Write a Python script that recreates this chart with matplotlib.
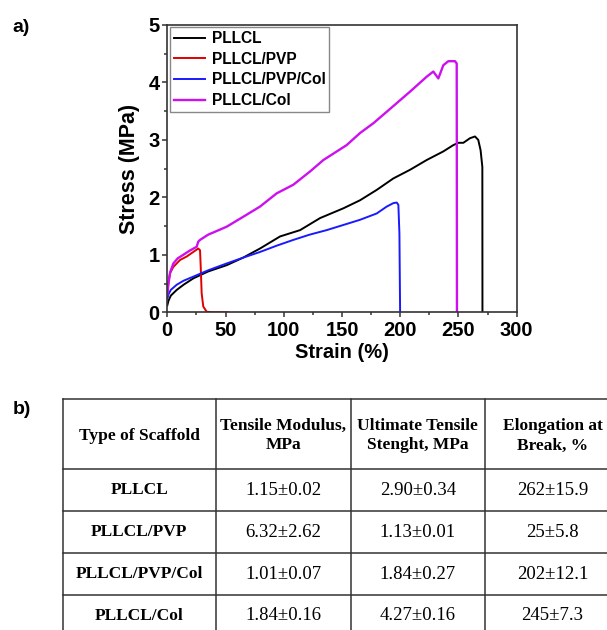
import numpy as np
import matplotlib.pyplot as plt

# stress-strain curves
labels = ['PLLCL', 'PLLCL/PVP', 'PLLCL/PVP/Col', 'PLLCL/Col']
colors = ['black', '#e00000', '#1a1aff', '#cc11ee']

pllcl_x = [0, 1, 3, 8.1, 14, 22.3, 35, 51, 65, 79.6, 96.8, 114, 131.2, 151.2, 165.5,
           179.8, 194.1, 208.4, 222.7, 237, 245.6, 249.9, 254.2, 259.9, 264.2, 267,
           269, 270.5, 270.6]
pllcl_y = [0.12, 0.2, 0.29, 0.39, 0.48, 0.59, 0.71, 0.82, 0.95, 1.11, 1.32, 1.43, 1.64,
           1.81, 1.95, 2.13, 2.33, 2.48, 2.65, 2.80, 2.91, 2.95, 2.95, 3.03, 3.06, 3.0,
           2.82, 2.53, 0]

pvp_x = [0, 0.5, 1.2, 2.3, 5.2, 10.9, 16.6, 22.3, 26.6, 28.1, 28.7, 29.5, 30.9, 33.8,
         40, 52.4]
pvp_y = [0.27, 0.42, 0.55, 0.68, 0.79, 0.91, 0.97, 1.05, 1.11, 1.08, 0.79, 0.33, 0.10,
         0.01, 0, 0]

pvpcol_x = [0, 1, 3, 8.1, 14, 22.3, 35, 51, 65, 79.6, 94, 108.2, 122, 136.8, 151.2,
            165.5, 179.8, 188.4, 194.1, 197, 198.4, 199.3, 199.9]
pvpcol_y = [0.24, 0.31, 0.39, 0.48, 0.55, 0.62, 0.73, 0.85, 0.95, 1.05, 1.16, 1.26,
            1.35, 1.43, 1.52, 1.61, 1.72, 1.84, 1.90, 1.91, 1.87, 1.37, 0]

col_x = [0, 1, 2.5, 5.2, 9, 13.7, 19, 25.2, 26.6, 28.1, 35, 51, 65, 79.6, 93.9, 108.2,
         122.5, 134, 154, 165.5, 176.9, 188.4, 208.4, 222.7, 228.4, 232.7, 237, 241.3,
         247, 248.5, 248.7]
col_y = [0.31, 0.5, 0.7, 0.85, 0.94, 1.0, 1.07, 1.14, 1.23, 1.26, 1.35, 1.49, 1.66,
         1.84, 2.07, 2.22, 2.45, 2.65, 2.91, 3.12, 3.29, 3.49, 3.84, 4.10, 4.19, 4.07,
         4.30, 4.37, 4.37, 4.33, 0]

# table b)
tbl_header = ['Type of Scaffold', 'Tensile Modulus,\nMPa', 'Ultimate Tensile\nStenght, MPa',
              'Elongation at\nBreak, %']
scaffolds = ['PLLCL', 'PLLCL/PVP', 'PLLCL/PVP/Col', 'PLLCL/Col']
modulus = ['1.15±0.02', '6.32±2.62', '1.01±0.07', '1.84±0.16']
uts = ['2.90±0.34', '1.13±0.01', '1.84±0.27', '4.27±0.16']
elong = ['262±15.9', '25±5.8', '202±12.1', '245±7.3']

W, H = 607, 630
fig = plt.figure(figsize=(W / 100, H / 100), dpi=100)
sans = 'Liberation Sans'
serif = 'Liberation Serif'

ax = fig.add_axes([167.3 / W, 1 - 312.3 / H, 349.4 / W, 287.3 / H])
xs = [pllcl_x, pvp_x, pvpcol_x, col_x]
ys = [pllcl_y, pvp_y, pvpcol_y, col_y]
for x, y, c, lab in zip(xs, ys, colors, labels):
    ax.plot(x, y, color=c, lw=1.4 if lab != 'PLLCL/Col' else 1.7, label=lab)

ax.set_xlim(0, 300)
ax.set_ylim(0, 5)
ax.set_xticks(np.arange(0, 301, 50))
ax.set_xticks(np.arange(25, 300, 50), minor=True)
ax.set_yticks(np.arange(0, 6, 1))
ax.set_yticks(np.arange(0.5, 5, 1), minor=True)
ax.tick_params(which='both', direction='out', top=False, right=False, width=1.1,
               color='#333333')
ax.tick_params(which='major', length=3.5, labelsize=14.5)
ax.tick_params(axis='x', which='major', pad=3)
ax.tick_params(axis='y', which='major', pad=2)
ax.tick_params(which='minor', length=2)
for t in ax.get_xticklabels() + ax.get_yticklabels():
    t.set_fontfamily(sans)
    t.set_fontweight('bold')
for s in ax.spines.values():
    s.set_color('#333333')
    s.set_linewidth(1.2)
ax.set_xlabel('Strain (%)', fontsize=14.5, fontweight='bold', family=sans, labelpad=2)
ax.set_ylabel('Stress (MPa)', fontsize=15.5, fontweight='bold', family=sans, labelpad=6)

leg = ax.legend(loc='upper left', frameon=True, fancybox=False, framealpha=1,
                edgecolor='#888888', borderaxespad=0.15, handlelength=2.0,
                handletextpad=0.45, labelspacing=0.36, borderpad=0.25,
                prop={'family': sans, 'weight': 'bold', 'size': 11.2})
leg.get_frame().set_linewidth(1.0)

fig.text(21 / W, 1 - 28 / H, 'a)', fontsize=14, fontweight='bold', family=sans,
         ha='center', va='center')
fig.text(22 / W, 1 - 409 / H, 'b)', fontsize=14, fontweight='bold', family=sans,
         ha='center', va='center')

# table drawn in pixel coordinates
tax = fig.add_axes([0, 0, 1, 1])
tax.set_xlim(0, W)
tax.set_ylim(H, 0)
tax.axis('off')
col_edges = [62.7, 216, 350.5, 485, 620]
row_edges = [399, 469.3, 511, 553.3, 595, 637]
lc = '#333333'
for yy in row_edges:
    tax.plot([col_edges[0], col_edges[-1]], [yy, yy], color=lc, lw=1.1)
for xx in col_edges:
    tax.plot([xx, xx], [row_edges[0], row_edges[-1]], color=lc, lw=1.1)

cx = [(a + b) / 2 for a, b in zip(col_edges[:-1], col_edges[1:])]
ry = [(a + b) / 2 for a, b in zip(row_edges[:-1], row_edges[1:])]
for j, h in enumerate(tbl_header):
    tax.text(cx[j], ry[0] + 1.5, h, ha='center', va='center', family=serif,
             fontweight='bold', fontsize=12.5, linespacing=1.3)
for i in range(len(scaffolds)):
    tax.text(cx[0], ry[i + 1], scaffolds[i], ha='center', va='center', family=serif,
             fontweight='bold', fontsize=12.5)
    for j, v in enumerate([modulus[i], uts[i], elong[i]]):
        tax.text(cx[j + 1], ry[i + 1], v, ha='center', va='center', family=serif,
                 fontsize=13.5)

fig.savefig('out.png', dpi=100)
